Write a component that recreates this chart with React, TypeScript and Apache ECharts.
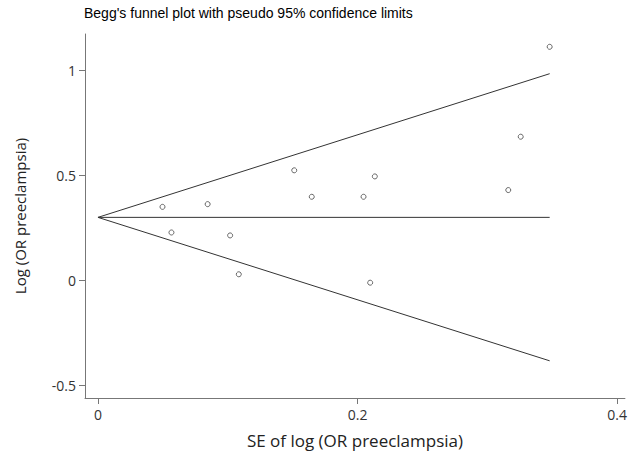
import React, { useEffect, useRef } from "react";
import * as echarts from "echarts";

const seValues = [0.0497, 0.0566, 0.0845, 0.1018, 0.1085, 0.1512, 0.1647, 0.2046, 0.2097, 0.2133, 0.3161, 0.3257, 0.348];
const logOrValues = [0.350, 0.228, 0.363, 0.214, 0.029, 0.524, 0.398, 0.398, -0.011, 0.495, 0.430, 0.684, 1.112];
const limitSE = [0, 0.348];
const pooledLine = [0.3, 0.3];
const upperLimit = [0.3, 0.984];
const lowerLimit = [0.3, -0.383];
const xTicks = [0, 0.2, 0.4];
const yTicks = [-0.5, 0, 0.5, 1];

const pair = (xs: number[], ys: number[]) => xs.map((x, i) => [x, ys[i]]);

export default function App() {
  const ref = useRef<HTMLDivElement>(null);
  useEffect(() => {
    if (!ref.current) return;
    const chart = echarts.init(ref.current, undefined, { renderer: "svg" });
    const labelFont = "'Open Sans', 'Noto Sans', sans-serif";
    const lineStyle = { color: "#333", width: 1 };
    chart.setOption({
      animation: false,
      backgroundColor: "#fff",
      title: {
        text: "Begg's funnel plot with pseudo 95% confidence limits",
        left: 84,
        top: 6,
        padding: 0,
        textStyle: { fontFamily: "'Liberation Sans', Arial, sans-serif", fontSize: 14, fontWeight: "normal", color: "#000" },
      },
      grid: { left: 85, right: 0, top: 34, bottom: 57 },
      xAxis: {
        type: "value",
        min: -0.01,
        max: 0.406,
        name: "SE of log (OR preeclampsia)",
        nameLocation: "middle",
        nameGap: 34,
        nameTextStyle: { fontFamily: labelFont, fontSize: 17, color: "#222" },
        axisLine: { show: true, onZero: false, lineStyle: { color: "#777", width: 1 } },
        axisTick: { show: true, length: 6, customValues: xTicks, lineStyle: { color: "#777" } },
        axisLabel: { customValues: xTicks, fontFamily: labelFont, fontSize: 14, color: "#333", margin: 9, formatter: (v: number) => String(v) },
        splitLine: { show: false },
      },
      yAxis: {
        type: "value",
        min: -0.56,
        max: 1.173,
        name: "Log (OR preeclampsia)",
        nameLocation: "middle",
        nameGap: 58,
        nameTextStyle: { fontFamily: labelFont, fontSize: 15, color: "#222" },
        axisLine: { show: true, onZero: false, lineStyle: { color: "#777", width: 1 } },
        axisTick: { show: true, length: 6, customValues: yTicks, lineStyle: { color: "#777" } },
        axisLabel: { customValues: yTicks, fontFamily: labelFont, fontSize: 14, color: "#333", margin: 9, formatter: (v: number) => String(v) },
        splitLine: { show: false },
      },
      series: [
        { type: "line", data: pair(limitSE, pooledLine), symbol: "none", lineStyle, z: 2 },
        { type: "line", data: pair(limitSE, upperLimit), symbol: "none", lineStyle, z: 2 },
        { type: "line", data: pair(limitSE, lowerLimit), symbol: "none", lineStyle, z: 2 },
        {
          type: "scatter",
          data: pair(seValues, logOrValues),
          symbol: "circle",
          symbolSize: 5,
          itemStyle: { color: "#fff", borderColor: "#444", borderWidth: 1 },
          z: 3,
        },
      ],
    });
    return () => chart.dispose();
  }, []);
  return <div ref={ref} style={{ width: 630, height: 455, position: "absolute", left: 0, top: 0 }} />;
}
